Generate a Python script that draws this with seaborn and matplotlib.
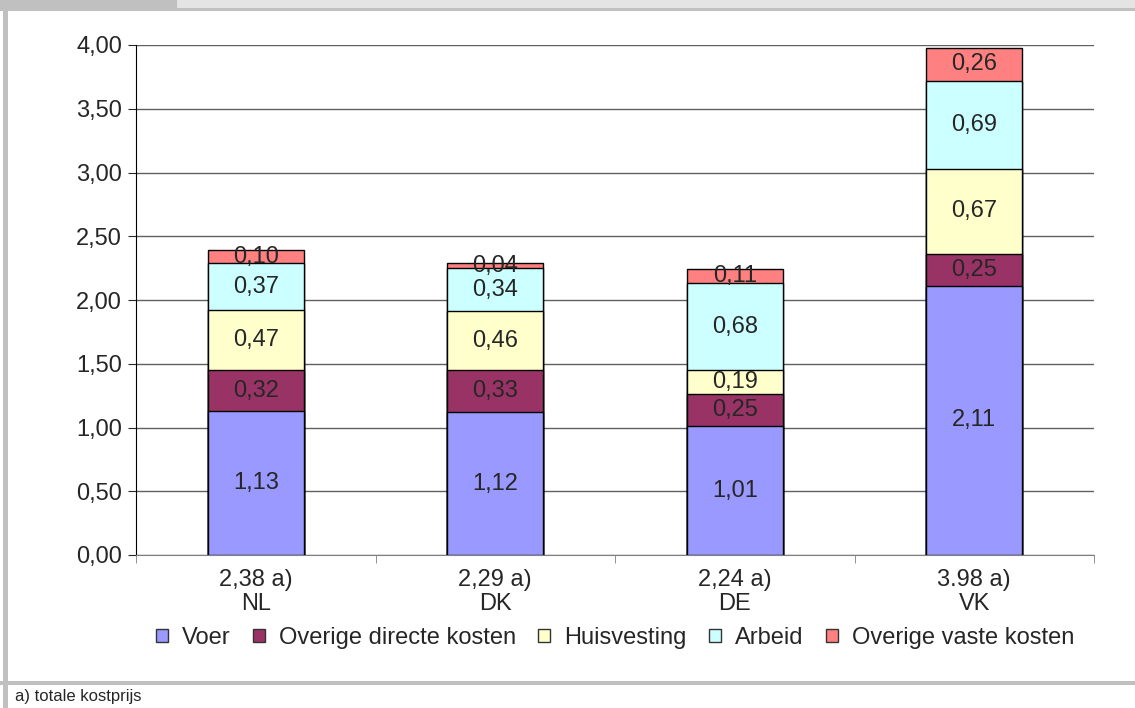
import numpy as np
import pandas as pd
import matplotlib.pyplot as plt
import seaborn as sns
from matplotlib.patches import Patch, Rectangle
from matplotlib.ticker import FuncFormatter, FixedLocator

# data
countries = ['NL', 'DK', 'DE', 'VK']
totalLabels = ['2,38 a)', '2,29 a)', '2,24 a)', '3.98 a)']
components = ['Voer', 'Overige directe kosten', 'Huisvesting', 'Arbeid', 'Overige vaste kosten']
voer = [1.13, 1.12, 1.01, 2.11]
overigeDirecte = [0.32, 0.33, 0.25, 0.25]
huisvesting = [0.47, 0.46, 0.19, 0.67]
arbeid = [0.37, 0.34, 0.68, 0.69]
overigeVaste = [0.10, 0.04, 0.11, 0.26]
colors = ['#9999FF', '#993366', '#FFFFCC', '#CCFFFF', '#FF8080']


def comma(v):
    return f"{v:.2f}".replace('.', ',')


def plotCostBreakdown():
    sns.set_style("white")
    plt.rcParams['font.family'] = ['Liberation Sans', 'DejaVu Sans']

    values = pd.DataFrame(
        [voer, overigeDirecte, huisvesting, arbeid, overigeVaste],
        index=components, columns=countries).T
    cumulative = values.cumsum(axis=1)

    fig = plt.figure(figsize=(11.35, 7.08), dpi=100)
    ax = fig.add_axes([136 / 1135, 1 - 555 / 708, (1094 - 136) / 1135, (555 - 45) / 708])

    # stacked bars: draw the cumulative totals from the top layer down
    for comp, col in reversed(list(zip(components, colors))):
        df = pd.DataFrame({'land': countries, 'waarde': cumulative[comp].values})
        sns.barplot(data=df, x='land', y='waarde', color=col, saturation=1,
                    width=0.4, edgecolor='black', linewidth=1, ax=ax, zorder=3)

    # value labels in the middle of each segment
    for i, land in enumerate(countries):
        for comp in components:
            v = values.loc[land, comp]
            mid = cumulative.loc[land, comp] - v / 2
            ax.text(i, mid, comma(v), ha='center', va='center', fontsize=17, zorder=5)

    ax.set_ylim(0, 4)
    ax.set_xlim(-0.5, 3.5)
    ax.set_yticks(np.arange(0, 4.01, 0.5))
    ax.yaxis.set_major_formatter(FuncFormatter(lambda v, p: comma(v)))
    ax.set_xticks(range(len(countries)))
    ax.set_xticklabels([f"{t}\n{c}" for t, c in zip(totalLabels, countries)],
                       fontsize=17, linespacing=1.1)
    ax.xaxis.set_minor_locator(FixedLocator(np.arange(-0.5, 3.6, 1)))
    ax.tick_params(axis='x', which='major', length=0, pad=10)
    ax.tick_params(axis='x', which='minor', length=6, color='#808080', bottom=True)
    ax.tick_params(axis='y', which='major', length=6, left=True, labelsize=17, pad=4)
    ax.set_xlabel('')
    ax.set_ylabel('')

    ax.yaxis.grid(True, color='#606060', linewidth=1)
    ax.set_axisbelow(True)
    for s in ['top', 'right']:
        ax.spines[s].set_visible(False)
    ax.spines['left'].set_color('black')
    ax.spines['bottom'].set_color('#808080')

    handles = [Patch(facecolor=c, edgecolor='#333333', linewidth=1) for c in colors]
    fig.legend(handles, components, loc='center', bbox_to_anchor=(615 / 1135, 1 - 638 / 708),
               ncol=5, frameon=False, fontsize=17, handlelength=0.5, handleheight=0.5,
               handletextpad=0.6, columnspacing=0.95)

    # frame pieces of the original figure box
    fig.patches.append(Rectangle((0, 1 - 11 / 708), 1, 11 / 708, transform=fig.transFigure,
                                 facecolor='#c0c0c0', edgecolor='none', zorder=0))
    fig.patches.append(Rectangle((177 / 1135, 1 - 8 / 708), 1, 8 / 708, transform=fig.transFigure,
                                 facecolor='#e4e4e4', edgecolor='none', zorder=1))
    fig.patches.append(Rectangle((3 / 1135, 0), 4.5 / 1135, 1, transform=fig.transFigure,
                                 facecolor='#c0c0c0', edgecolor='none', zorder=0))
    fig.patches.append(Rectangle((0, 1 - 684.5 / 708), 1, 3.5 / 708, transform=fig.transFigure,
                                 facecolor='#c0c0c0', edgecolor='none', zorder=0))

    fig.text(15 / 1135, 1 - 697 / 708, 'a) totale kostprijs', fontsize=12, va='center', ha='left')

    fig.savefig('out.png', dpi=100)
    plt.close(fig)


if __name__ == "__main__":
    plotCostBreakdown()
